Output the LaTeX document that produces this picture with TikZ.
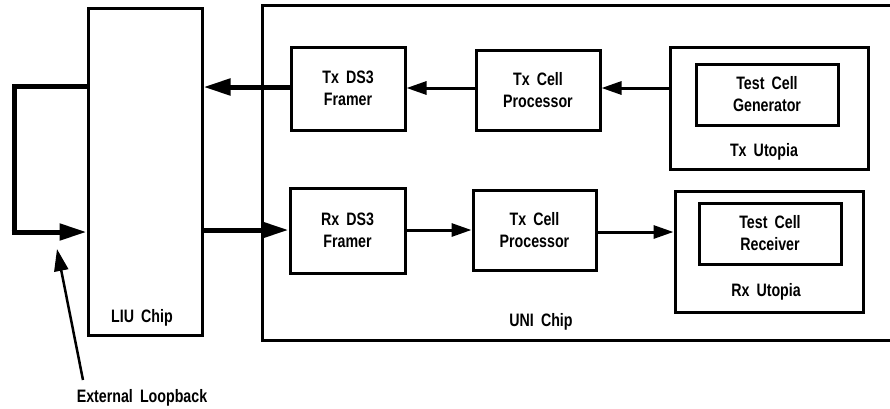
\documentclass[tikz,border=0pt]{standalone}
\usepackage{fontspec}
\setmainfont[FakeStretch=0.79,WordSpace=1.8]{Liberation Sans}
\usetikzlibrary{arrows.meta}
\begin{document}
\begin{tikzpicture}[x=1pt,y=-1pt,
  box/.style={draw,line width=3pt,inner sep=0pt},
  lbl/.style={font=\fontsize{18}{22}\selectfont\bfseries,align=center,inner sep=0pt},
  thin/.style={line width=3pt,-{Triangle[length=20pt,width=13pt]}},
  thick/.style={line width=5pt,-{Triangle[length=27pt,width=16pt]}},
  loopln/.style={line width=5pt}]
\useasboundingbox (0,0) rectangle (890,408);
% chips
\node[box,minimum width=114pt,minimum height=327pt] (liu) at (145,171.5) {};
\node[lbl] (liul) at (142,318) {LIU Chip};
\draw[line width=3pt] (900,5) -- (262,5) -- (262,340) -- (900,340);
\coordinate (unil) at (262,172);
\node[lbl] (unilbl) at (541,322) {UNI Chip};
% Tx path
\node[box,minimum width=114pt,minimum height=83pt] (txf) at (348,88.5) {};
\node[lbl] at (txf) {Tx DS3\\Framer};
\node[box,minimum width=124pt,minimum height=80pt] (txp) at (538,90) {};
\node[lbl] at (txp) {Tx Cell\\Processor};
\node[box,minimum width=198pt,minimum height=122pt] (txu) at (769,108) {};
\node[lbl] (txul) at (764,152) {Tx Utopia};
\node[box,minimum width=142pt,minimum height=61pt] (gen) at (767,94.5) {};
\node[lbl] at (gen) {Test Cell\\Generator};
% Rx path
\node[box,minimum width=115pt,minimum height=85pt] (rxf) at (347.5,230.5) {};
\node[lbl] at (rxf) {Rx DS3\\Framer};
\node[box,minimum width=123pt,minimum height=80pt] (rxp) at (534.5,230) {};
\node[lbl] at (rxp) {Tx Cell\\Processor};
\node[box,minimum width=188pt,minimum height=121pt] (rxu) at (769,251.5) {};
\node[lbl] (rxul) at (766,292) {Rx Utopia};
\node[box,minimum width=142pt,minimum height=61pt] (rec) at (770,233.5) {};
\node[lbl] at (rec) {Test Cell\\Receiver};
% connectors
\draw[thin] (txp.west |- 0,88) -- (txf.east |- 0,88);
\draw[thin] (txu.west |- 0,88) -- (txp.east |- 0,88);
\draw[thick] (txf.west |- 0,87) -- (liu.east |- 0,87);
\draw[thick] (liu.east |- 0,230) -- (rxf.west |- 0,230);
\draw[thin] (rxf.east |- 0,230) -- (rxp.west |- 0,230);
\draw[thin] (rxp.east |- 0,232) -- (rxu.west |- 0,232);
\coordinate (lpa) at (14,86);
\coordinate (lpb) at (14,232);
\draw[loopln] (liu.west |- 0,86) -- (lpa) -- (lpb);
\draw[thick] ([xshift=-2.5pt]lpb) -- (liu.west |- 0,232);
% external loopback
\node[lbl] (ext) at (142,398) {External Loopback};
\coordinate (extp) at (57,249);
\draw[line width=2.5pt,-{Triangle[length=22pt,width=14pt]}] (83,380) -- (extp);
\end{tikzpicture}
\end{document}
